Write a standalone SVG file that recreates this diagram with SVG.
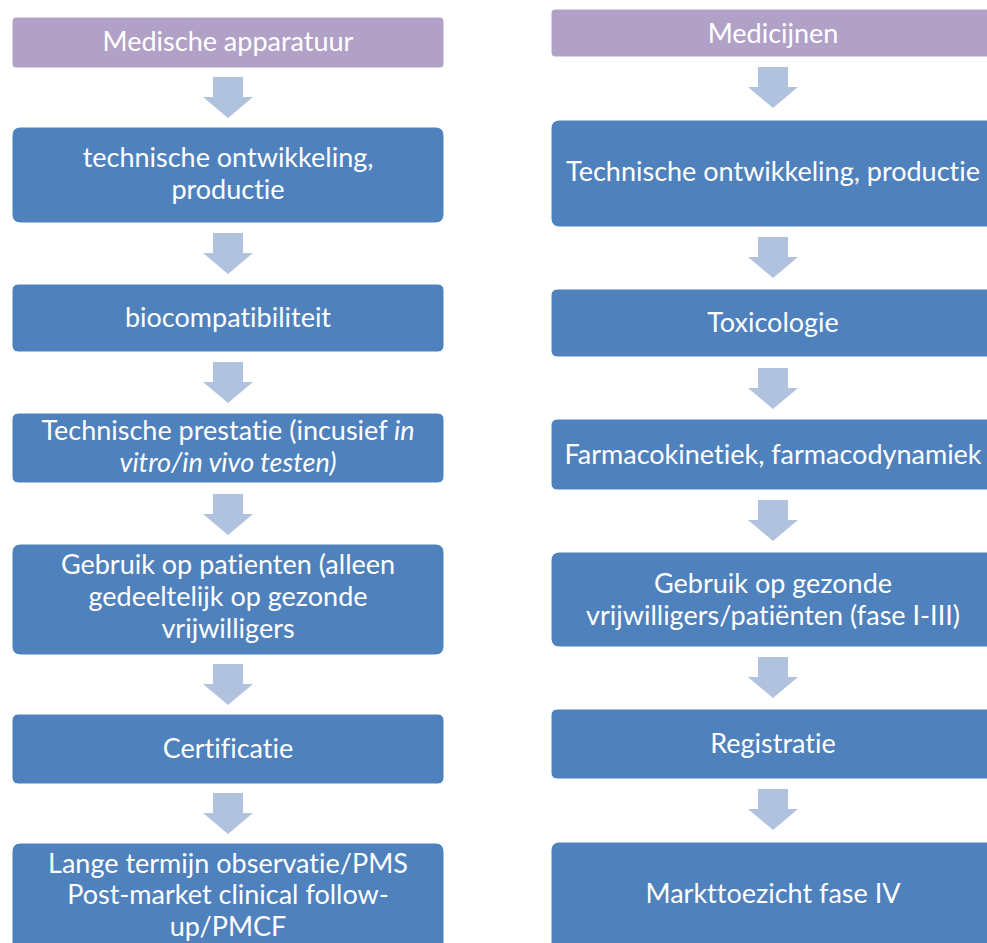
<svg xmlns="http://www.w3.org/2000/svg" width="987" height="943" viewBox="0 0 987 943">
  <style>
    .head { fill: #B2A1C7; stroke: #ffffff; stroke-width: 1; }
    .step { fill: #4F81BD; stroke: #ffffff; stroke-width: 1; }
    .arrow { fill: #B0C2DE; }
    text { font-family: Lato, "Open Sans", sans-serif; font-size: 27px; fill: #ffffff; text-anchor: middle; font-variant-ligatures: none; font-feature-settings: "liga" 0, "clig" 0; }
    .it { font-style: italic; }
  </style>
  <defs>
    <!-- block arrow: shaft 30 wide, head 50 wide, 40 tall, origin at top centre -->
    <path id="down" d="M-15,0 H15 V20 H25 L0,41 L-25,20 H-15 Z"/>
  </defs>

  <rect width="987" height="943" fill="#ffffff"/>

  <g id="connectors" class="arrow">
    <use href="#down" x="228" y="77"/>
    <use href="#down" x="228" y="233"/>
    <use href="#down" x="228" y="362"/>
    <use href="#down" x="228" y="494"/>
    <use href="#down" x="228" y="664"/>
    <use href="#down" x="228" y="793"/>

    <use href="#down" x="773" y="67"/>
    <use href="#down" x="773" y="237"/>
    <use href="#down" x="773" y="368"/>
    <use href="#down" x="773" y="500"/>
    <use href="#down" x="773" y="657"/>
    <use href="#down" x="773" y="789"/>
  </g>

  <!-- left column: medical devices -->
  <g id="l0">
    <rect class="head" x="12" y="17" width="432" height="51" rx="4"/>
    <text x="228" y="51">Medische apparatuur</text>
  </g>
  <g id="l1">
    <rect class="step" x="12" y="127" width="432" height="96" rx="8"/>
    <text x="228" y="167">technische ontwikkeling,</text>
    <text x="228" y="199">productie</text>
  </g>
  <g id="l2">
    <rect class="step" x="12" y="284" width="432" height="68" rx="6"/>
    <text x="228" y="327">biocompatibiliteit</text>
  </g>
  <g id="l3">
    <rect class="step" x="12" y="413" width="432" height="70" rx="6"/>
    <text x="228" y="440">Technische prestatie (incusief <tspan class="it">in</tspan></text>
    <text x="228" y="472" class="it">vitro/in vivo testen)</text>
  </g>
  <g id="l4">
    <rect class="step" x="12" y="544" width="432" height="111" rx="8"/>
    <text x="228" y="574">Gebruik op patienten (alleen</text>
    <text x="228" y="606">gedeeltelijk op gezonde</text>
    <text x="228" y="638">vrijwilligers</text>
  </g>
  <g id="l5">
    <rect class="step" x="12" y="714" width="432" height="70" rx="6"/>
    <text x="228" y="758">Certificatie</text>
  </g>
  <g id="l6">
    <rect class="step" x="12" y="843" width="432" height="120" rx="8"/>
    <text x="228" y="873">Lange termijn observatie/PMS</text>
    <text x="228" y="904">Post-market clinical follow-</text>
    <text x="228" y="936">up/PMCF</text>
  </g>

  <!-- right column: medicines -->
  <g id="r0">
    <rect class="head" x="551" y="9" width="444" height="48" rx="4"/>
    <text x="773" y="43">Medicijnen</text>
  </g>
  <g id="r1">
    <rect class="step" x="551" y="120" width="444" height="107" rx="8"/>
    <text x="773" y="181">Technische ontwikkeling, productie</text>
  </g>
  <g id="r2">
    <rect class="step" x="551" y="289" width="444" height="68" rx="6"/>
    <text x="773" y="332">Toxicologie</text>
  </g>
  <g id="r3">
    <rect class="step" x="551" y="419" width="444" height="71" rx="6"/>
    <text x="773" y="464">Farmacokinetiek, farmacodynamiek</text>
  </g>
  <g id="r4">
    <rect class="step" x="551" y="552" width="444" height="95" rx="8"/>
    <text x="773" y="593">Gebruik op gezonde</text>
    <text x="773" y="625">vrijwilligers/patiënten (fase I-III)</text>
  </g>
  <g id="r5">
    <rect class="step" x="551" y="709" width="444" height="70" rx="6"/>
    <text x="773" y="753">Registratie</text>
  </g>
  <g id="r6">
    <rect class="step" x="551" y="842" width="444" height="120" rx="8"/>
    <text x="773" y="903">Markttoezicht fase IV</text>
  </g>
</svg>
